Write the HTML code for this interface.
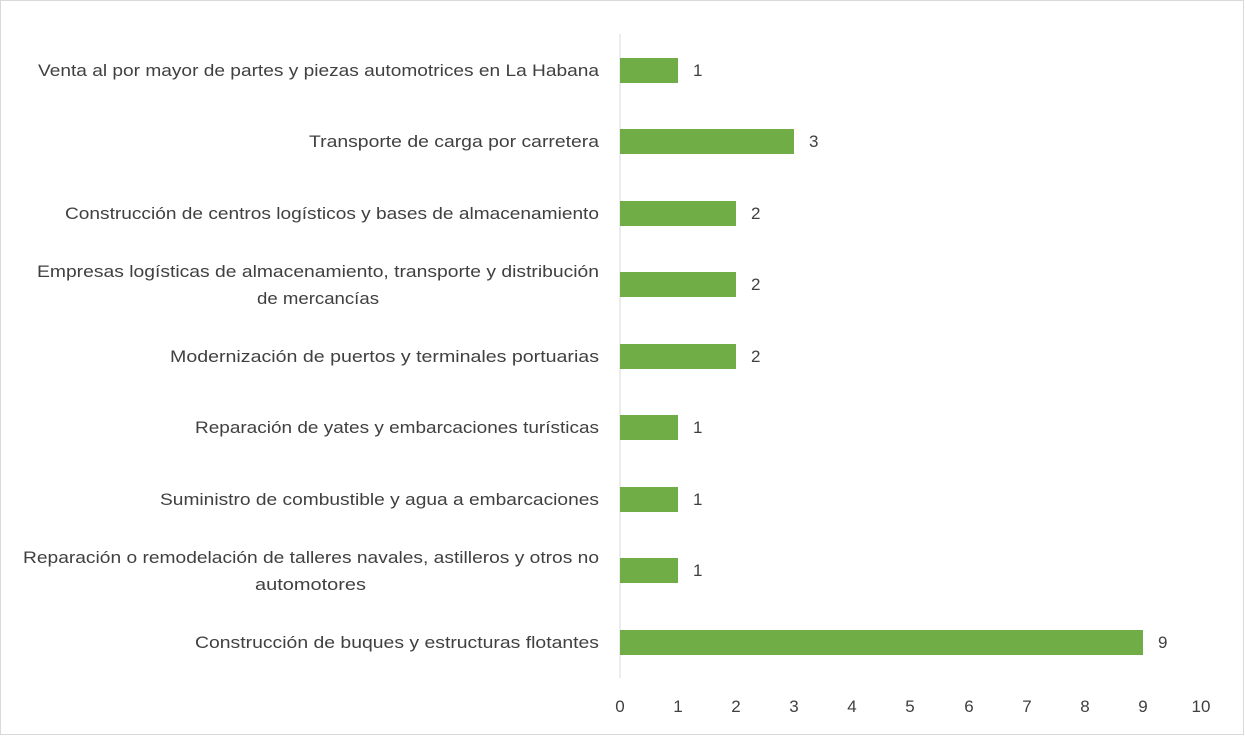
<!DOCTYPE html>
<html><head><meta charset="utf-8"><style>
html,body{margin:0;padding:0;background:#fff;}
svg text{font-family:"Liberation Sans",sans-serif;font-size:17px;fill:#404040;}
</style></head><body>
<svg width="1245" height="736" xmlns="http://www.w3.org/2000/svg">
<rect x="0.5" y="0.5" width="1243" height="734" fill="#fff" stroke="#d9d9d9"/>
<line x1="620" y1="34" x2="620" y2="678" stroke="#d9d9d9" stroke-width="1"/>
<g fill="#70ad47">
<rect x="620" y="58" width="58" height="25"/>
<rect x="620" y="129" width="174" height="25"/>
<rect x="620" y="201" width="116" height="25"/>
<rect x="620" y="272" width="116" height="25"/>
<rect x="620" y="344" width="116" height="25"/>
<rect x="620" y="415" width="58" height="25"/>
<rect x="620" y="487" width="58" height="25"/>
<rect x="620" y="558" width="58" height="25"/>
<rect x="620" y="630" width="523" height="25"/>
</g>
<g text-anchor="start">
<text x="693" y="76">1</text>
<text x="809" y="147">3</text>
<text x="751" y="219">2</text>
<text x="751" y="290">2</text>
<text x="751" y="362">2</text>
<text x="693" y="433">1</text>
<text x="693" y="505">1</text>
<text x="693" y="576">1</text>
<text x="1158" y="648">9</text>
</g>
<g lengthAdjust="spacingAndGlyphs">
<text x="38" y="76" textLength="561" lengthAdjust="spacingAndGlyphs">Venta al por mayor de partes y piezas automotrices en La Habana</text>
<text x="309" y="147" textLength="290" lengthAdjust="spacingAndGlyphs">Transporte de carga por carretera</text>
<text x="65" y="219" textLength="534" lengthAdjust="spacingAndGlyphs">Construcción de centros logísticos y bases de almacenamiento</text>
<text x="37" y="277" textLength="562" lengthAdjust="spacingAndGlyphs">Empresas logísticas de almacenamiento, transporte y distribución</text>
<text x="257" y="304" textLength="122" lengthAdjust="spacingAndGlyphs">de mercancías</text>
<text x="170" y="362" textLength="429" lengthAdjust="spacingAndGlyphs">Modernización de puertos y terminales portuarias</text>
<text x="195" y="433" textLength="404" lengthAdjust="spacingAndGlyphs">Reparación de yates y embarcaciones turísticas</text>
<text x="160" y="505" textLength="439" lengthAdjust="spacingAndGlyphs">Suministro de combustible y agua a embarcaciones</text>
<text x="23" y="563" textLength="576" lengthAdjust="spacingAndGlyphs">Reparación o remodelación de talleres navales, astilleros y otros no</text>
<text x="255" y="590" textLength="111" lengthAdjust="spacingAndGlyphs">automotores</text>
<text x="195" y="648" textLength="404" lengthAdjust="spacingAndGlyphs">Construcción de buques y estructuras flotantes</text>
</g>
<g text-anchor="middle">
<text x="620" y="712">0</text>
<text x="678" y="712">1</text>
<text x="736" y="712">2</text>
<text x="794" y="712">3</text>
<text x="852" y="712">4</text>
<text x="910" y="712">5</text>
<text x="969" y="712">6</text>
<text x="1027" y="712">7</text>
<text x="1085" y="712">8</text>
<text x="1143" y="712">9</text>
<text x="1201" y="712">10</text>
</g>
</svg>
</body></html>
